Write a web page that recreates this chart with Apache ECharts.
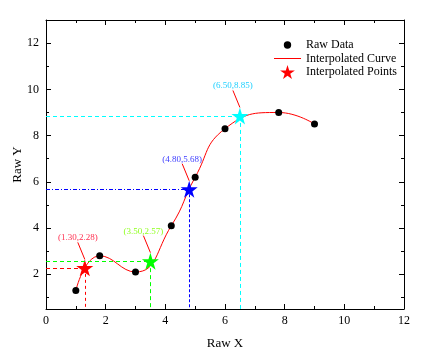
<!DOCTYPE html>
<html><head><meta charset="utf-8">
<script src="https://cdn.jsdelivr.net/npm/echarts@6/dist/echarts.min.js"></script>
<style>html,body{margin:0;padding:0;background:#fff}#c{width:443px;height:362px}</style>
</head><body><div id="c"></div>
<script>
const rawX = [1.0, 1.8, 3.0, 4.2, 5.0, 6.0, 7.8, 9.0];
const rawY = [1.3, 2.8, 2.1, 4.1, 6.2, 8.3, 9.0, 8.5];
const interpX = [1.30, 3.50, 4.80, 6.50];
const interpY = [2.28, 2.57, 5.68, 8.85];
const interpColors = ['#ff0000', '#00ff00', '#0000ff', '#00ffff'];
const labelColors = ['#ff3050', '#90ff20', '#4040ff', '#20d0ff'];
const hTypes = [[4,3], [4,3], [4,2,1,2], [4,3]];
const vTypes = [[3,3], [4,3], [3,2], [4,3]];
const yTicks = [2, 4, 6, 8, 10, 12];
const yMinor = [1, 3, 5, 7, 9, 11, 13];
const X_MIN = 0, X_MAX = 12, Y_MIN = 0.5, Y_MAX = 13;

const STAR = 'path://M50,0 L61,35 L98,35 L68,57 L79,91 L50,70 L21,91 L32,57 L2,35 L39,35 Z';
const DOT_ICON = 'path://M0,0L0.01,0L0,0.01Z M14,14L13.99,14L14,13.99Z M7,3.3 A3.7,3.7 0 1 1 6.99,3.3Z';
const LINE_ICON = 'path://M0,0L27,0L27,1L0,1Z';
const font = 'Liberation Serif';

const markLines = [];
interpX.forEach((x, i) => {
  markLines.push([{coord: [X_MIN, interpY[i]], lineStyle: {color: interpColors[i], type: hTypes[i], width: 1}}, {coord: [x, interpY[i]]}]);
  markLines.push([{coord: [x, interpY[i]], lineStyle: {color: interpColors[i], type: vTypes[i], width: 1}}, {coord: [x, Y_MIN]}]);
});

const axLine = {show: true, lineStyle: {color: '#000', width: 1}};
const chart = echarts.init(document.getElementById('c'), null, {renderer: 'canvas'});
chart.setOption({
  animation: false,
  backgroundColor: '#fff',
  grid: {left: 46, right: 39, top: 20, bottom: 53, containLabel: false, outerBoundsMode: 'none'},
  legend: {
    orient: 'vertical', left: 269, top: 33, itemWidth: 27, itemHeight: 14, itemGap: 0.5,
    textStyle: {fontFamily: font, fontSize: 12, color: '#000'},
    data: [
      {name: 'Raw Data', icon: DOT_ICON},
      {name: 'Interpolated Curve', icon: LINE_ICON, itemStyle: {color: '#ff0000', borderWidth: 0}},
      {name: 'Interpolated Points', icon: STAR}
    ]
  },
  xAxis: [
    {type: 'value', min: X_MIN, max: X_MAX, interval: 2, position: 'bottom',
     name: 'Raw X', nameLocation: 'middle', nameGap: 28,
     nameTextStyle: {fontFamily: font, fontSize: 13, color: '#000'},
     axisLine: axLine, splitLine: {show: false},
     axisTick: {inside: true, length: 5, lineStyle: {color: '#000'}},
     minorTick: {show: true, splitNumber: 2, length: 3, lineStyle: {color: '#000'}},
     axisLabel: {fontFamily: font, fontSize: 12, color: '#000', margin: 6}},
    {type: 'value', min: X_MIN, max: X_MAX, interval: 2, position: 'top',
     axisLine: axLine, splitLine: {show: false},
     axisTick: {inside: true, length: 5, lineStyle: {color: '#000'}},
     minorTick: {show: true, splitNumber: 2, length: 3, lineStyle: {color: '#000'}},
     axisLabel: {show: false}}
  ],
  yAxis: [
    {type: 'value', min: Y_MIN, max: Y_MAX, position: 'left',
     name: 'Raw Y', nameLocation: 'middle', nameGap: 22, nameMoveOverlap: false,
     nameTextStyle: {fontFamily: font, fontSize: 13, color: '#000'},
     axisLine: axLine, splitLine: {show: false},
     axisTick: {inside: true, length: 5, customValues: yTicks, lineStyle: {color: '#000'}},
     axisLabel: {fontFamily: font, fontSize: 12, color: '#000', margin: 7, customValues: yTicks}},
    {type: 'value', min: Y_MIN, max: Y_MAX, position: 'left', offset: 0,
     axisLine: {show: false}, splitLine: {show: false},
     axisTick: {inside: true, length: 3, customValues: yMinor, lineStyle: {color: '#000'}},
     axisLabel: {show: false, customValues: yMinor}},
    {type: 'value', min: Y_MIN, max: Y_MAX, position: 'right', offset: 0,
     axisLine: axLine, splitLine: {show: false},
     axisTick: {inside: true, length: 5, customValues: yTicks, lineStyle: {color: '#000'}},
     axisLabel: {show: false, customValues: yTicks}},
    {type: 'value', min: Y_MIN, max: Y_MAX, position: 'right', offset: 0,
     axisLine: {show: false}, splitLine: {show: false},
     axisTick: {inside: true, length: 3, customValues: yMinor, lineStyle: {color: '#000'}},
     axisLabel: {show: false, customValues: yMinor}}
  ],
  series: [
    {name: 'Interpolated Curve', type: 'line', smooth: 0.5, symbol: 'none',
     data: rawX.map((x, i) => [x, rawY[i]]),
     lineStyle: {color: '#ff0000', width: 1}, itemStyle: {color: '#ff0000'}, z: 2,
     markLine: {silent: true, symbol: ['none', 'none'], label: {show: false}, data: markLines}},
    {name: 'Raw Data', type: 'scatter', symbol: 'circle', symbolSize: 7,
     data: rawX.map((x, i) => [x, rawY[i]]),
     itemStyle: {color: '#000', opacity: 1}, z: 3},
    {name: 'Interpolated Points', type: 'scatter', symbol: STAR, symbolSize: 17,
     itemStyle: {color: '#ff0000', opacity: 1}, z: 4,
     data: interpX.map((x, i) => ({
       value: [x, interpY[i]],
       itemStyle: {color: interpColors[i], opacity: 1},
       label: {color: labelColors[i]}
     })),
     label: {show: true, position: 'top', distance: 4, fontFamily: font, fontSize: 9,
       formatter: p => '(' + p.value[0].toFixed(2) + ',' + p.value[1].toFixed(2) + ')'},
     labelLayout: {dx: -7, dy: -13},
     labelLine: {show: true, lineStyle: {color: '#ff0000', width: 1}}}
  ]
});
</script></body></html>
